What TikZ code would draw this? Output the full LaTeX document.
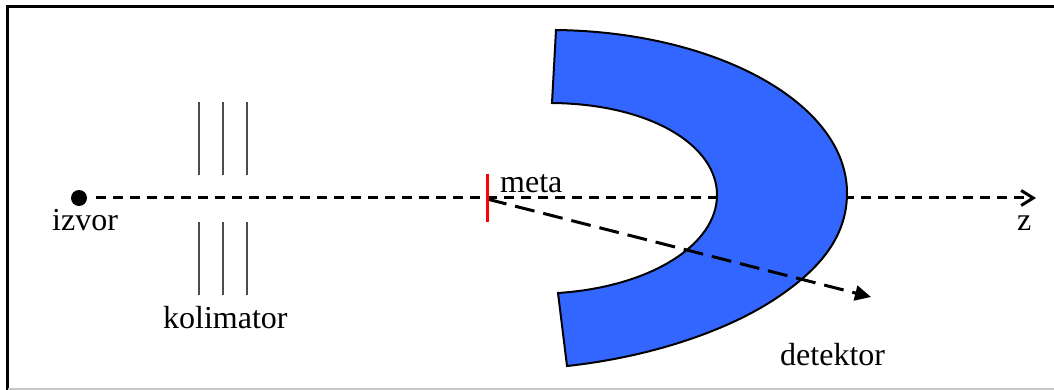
\documentclass[tikz,border=0pt]{standalone}
\usepackage{fontspec}
\setmainfont{Liberation Serif}
\usetikzlibrary{arrows.meta,positioning}
\definecolor{detblue}{RGB}{51,102,255}

\begin{document}
\begin{tikzpicture}[x=1pt,y=-1pt, >=Stealth,
  lbl/.style={inner sep=0pt,anchor=base west,font=\fontsize{32}{36}\selectfont},
  slit/.style={draw=black!70,line width=1.4pt},
  beam/.style={draw,line width=3pt,dash pattern=on 9.5pt off 7.5pt},
  scat/.style={draw,line width=3pt,dash pattern=on 20pt off 9pt}]
\useasboundingbox (0,0) rectangle (1054,390);
% okvir
\draw[line width=3pt] (1054,6.5) -- (7,6.5) -- (7,390);
\draw[black!22,line width=2pt] (8,389) -- (1054,389);
\node[circle,fill=black,inner sep=0pt,minimum size=16pt] (izvor) at (79,198) {};
\coordinate (meta) at (487,199);
\coordinate (zend) at (1036,198);
\coordinate (detend) at (871,297);
\draw[beam,shorten <=9pt,-{Straight Barb[length=12pt,width=15pt]}] (izvor) -- (zend);
% detektor
\draw[fill=detblue,line width=2pt]
  (556,30) .. controls (716,32) and (847,103) .. (847,193)
  .. controls (847,238) and (818,270) .. (778,297)
  .. controls (728,331) and (650,357) .. (567,366) -- (558,293)
  .. controls (650,287) and (717,245) .. (717,195)
  .. controls (717,145) and (650,104) .. (552,103) -- cycle;
\draw[scat,-{Triangle[length=16pt,width=15pt]}] (meta) -- (detend);
\draw[red,line width=3pt] (487,174) -- (487,222);
% kolimator
\foreach \xs in {199,223,247}{
  \draw[slit] (\xs,102) -- (\xs,175);
  \draw[slit] (\xs,222) -- (\xs,295);
}
\node[lbl] (izvorlbl) at (52,230) {izvor};
\node[lbl] (kolimatorlbl) at (163,328) {kolimator};
\node[lbl] (metalbl) at (500,193) {meta};
\node[lbl] (detektorlbl) at (780,365) {detektor};
\node[lbl] (zlbl) at (1017,230) {z};
\end{tikzpicture}
\end{document}
